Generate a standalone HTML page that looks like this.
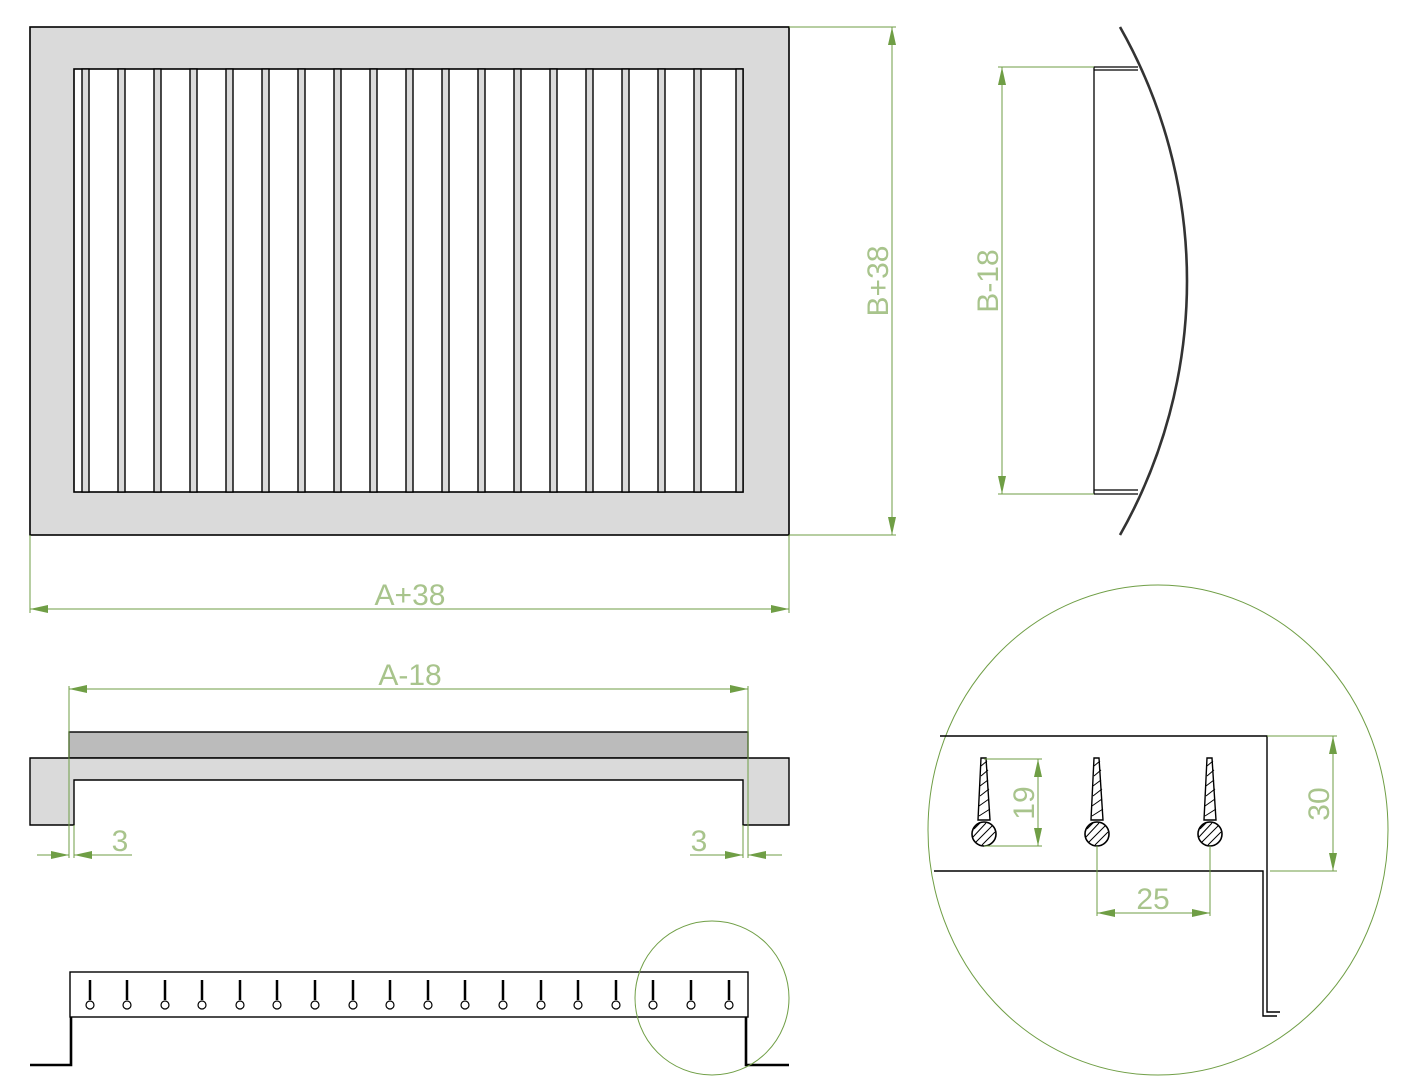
<!DOCTYPE html>
<html><head><meta charset="utf-8"><style>
html,body{margin:0;padding:0;background:#fff;}
svg{display:block;}
.d{stroke:#6f9e45;stroke-width:1;fill:none;}
.t{font-family:"Liberation Sans",sans-serif;fill:#a8c48c;font-size:30px;}
</style></head><body>
<svg width="1419" height="1086" viewBox="0 0 1419 1086" xmlns="http://www.w3.org/2000/svg">
<defs>
<marker id="a" viewBox="0 0 18 8" refX="18" refY="4" markerWidth="18" markerHeight="8" orient="auto-start-reverse" markerUnits="userSpaceOnUse"><path d="M0,0 L18,4 L0,8z" fill="#6f9e45"/></marker>
<g id="pin"><path d="M-3,-76 L2,-76 L6,-14 L-6,-14 Z" fill="#fff" stroke="#000" stroke-width="1.4"/>
<path d="M-3,-68 L3,-73 M-3,-58 L4,-64 M-4,-48 L4,-54 M-4,-38 L5,-45 M-5,-28 L5,-35 M-5,-18 L6,-25" stroke="#000" stroke-width="1"/>
<circle cx="0" cy="0" r="12" fill="#fff" stroke="#000" stroke-width="1.6"/>
<path d="M-10,-5 L-4,-11 M-11,3 L2,-11 M-8,8 L8,-8 M-2,11 L11,-2" stroke="#000" stroke-width="1"/></g>
<g id="sp"><line x1="0" y1="980" x2="0" y2="1000" stroke="#000" stroke-width="2.5"/><circle cx="0" cy="1005" r="4" fill="#fff" stroke="#000" stroke-width="1.2"/></g>
</defs>

<rect x="30" y="27" width="759" height="508" fill="#dadada" stroke="#000" stroke-width="1.6"/>
<rect x="74" y="69" width="669" height="423" fill="#fff" stroke="#000" stroke-width="1.6"/>
<g fill="#dadada" stroke="#000" stroke-width="1.4">
<rect x="82" y="69" width="7" height="423"/><rect x="118" y="69" width="7" height="423"/><rect x="154" y="69" width="7" height="423"/><rect x="190" y="69" width="7" height="423"/><rect x="226" y="69" width="7" height="423"/><rect x="262" y="69" width="7" height="423"/><rect x="298" y="69" width="7" height="423"/><rect x="334" y="69" width="7" height="423"/><rect x="370" y="69" width="7" height="423"/><rect x="406" y="69" width="7" height="423"/><rect x="442" y="69" width="7" height="423"/><rect x="478" y="69" width="7" height="423"/><rect x="514" y="69" width="7" height="423"/><rect x="550" y="69" width="7" height="423"/><rect x="586" y="69" width="7" height="423"/><rect x="622" y="69" width="7" height="423"/><rect x="658" y="69" width="7" height="423"/><rect x="694" y="69" width="7" height="423"/><rect x="736" y="69" width="7" height="423"/>
</g>
<path class="d" d="M789,27 H896 M789,535 H896 M30,535 V613 M789,535 V613"/>
<line class="d" x1="892" y1="27" x2="892" y2="535" marker-start="url(#a)" marker-end="url(#a)"/>
<line class="d" x1="30" y1="609" x2="789" y2="609" marker-start="url(#a)" marker-end="url(#a)"/>
<text class="t" transform="translate(888,281) rotate(-90)" text-anchor="middle">B+38</text>
<text class="t" x="410" y="605" text-anchor="middle">A+38</text>

<path d="M1094,494 V67 H1138 M1094,70 H1138 M1094,490 H1138 M1094,494 H1138" stroke="#000" stroke-width="1.3" fill="none"/>
<path d="M1120,27 A515,515 0 0 1 1120,535" stroke="#333" stroke-width="2.6" fill="none"/>
<path class="d" d="M998,67 H1094 M998,494 H1094"/>
<line class="d" x1="1002" y1="67" x2="1002" y2="494" marker-start="url(#a)" marker-end="url(#a)"/>
<text class="t" transform="translate(998,281) rotate(-90)" text-anchor="middle">B-18</text>

<rect x="69" y="732" width="679" height="26" fill="#bbb" stroke="#000" stroke-width="1.4"/>
<path d="M30,758 H789 V825 H743 V780 H74 V825 H30 Z" fill="#dadada" stroke="#000" stroke-width="1.4"/>
<path class="d" d="M69,686 V858 M748,686 V858 M74,825 V858 M743,825 V858"/>
<line class="d" x1="69" y1="689" x2="748" y2="689" marker-start="url(#a)" marker-end="url(#a)"/>
<text class="t" x="410" y="685" text-anchor="middle">A-18</text>
<line class="d" x1="37" y1="855" x2="69" y2="855" marker-end="url(#a)"/>
<line class="d" x1="132" y1="855" x2="74" y2="855" marker-end="url(#a)"/>
<line class="d" x1="690" y1="855" x2="743" y2="855" marker-end="url(#a)"/>
<line class="d" x1="782" y1="855" x2="748" y2="855" marker-end="url(#a)"/>
<text class="t" x="120" y="851" text-anchor="middle">3</text>
<text class="t" x="699" y="851" text-anchor="middle">3</text>

<rect x="70" y="972" width="678" height="45" fill="#fff" stroke="#000" stroke-width="1.4"/>
<path d="M30,1065 H71 V1017 M789,1065 H746 V1017" stroke="#000" stroke-width="2.6" fill="none"/>
<g>
<use href="#sp" x="90"/><use href="#sp" x="127"/><use href="#sp" x="165"/><use href="#sp" x="202"/><use href="#sp" x="240"/><use href="#sp" x="277"/><use href="#sp" x="315"/><use href="#sp" x="353"/><use href="#sp" x="390"/><use href="#sp" x="428"/><use href="#sp" x="465"/><use href="#sp" x="503"/><use href="#sp" x="541"/><use href="#sp" x="578"/><use href="#sp" x="616"/><use href="#sp" x="653"/><use href="#sp" x="691"/><use href="#sp" x="729"/>
</g>
<circle class="d" cx="712" cy="998" r="77"/>

<ellipse class="d" cx="1158" cy="830" rx="230" ry="245"/>
<path d="M940,736 H1267 V1012 H1280 M934,871 H1263 V1016 H1277" stroke="#000" stroke-width="1.4" fill="none"/>
<use href="#pin" x="984" y="834"/>
<use href="#pin" x="1097" y="834"/>
<use href="#pin" x="1210" y="834"/>
<path class="d" d="M984,759 H1042 M984,846 H1042 M1097,846 V916 M1210,846 V916 M1267,736 H1337 M1270,871 H1337"/>
<line class="d" x1="1038" y1="759" x2="1038" y2="846" marker-start="url(#a)" marker-end="url(#a)"/>
<line class="d" x1="1333" y1="736" x2="1333" y2="871" marker-start="url(#a)" marker-end="url(#a)"/>
<line class="d" x1="1097" y1="913" x2="1210" y2="913" marker-start="url(#a)" marker-end="url(#a)"/>
<text class="t" transform="translate(1034,803) rotate(-90)" text-anchor="middle">19</text>
<text class="t" transform="translate(1329,804) rotate(-90)" text-anchor="middle">30</text>
<text class="t" x="1153" y="909" text-anchor="middle">25</text>
</svg>
</body></html>
